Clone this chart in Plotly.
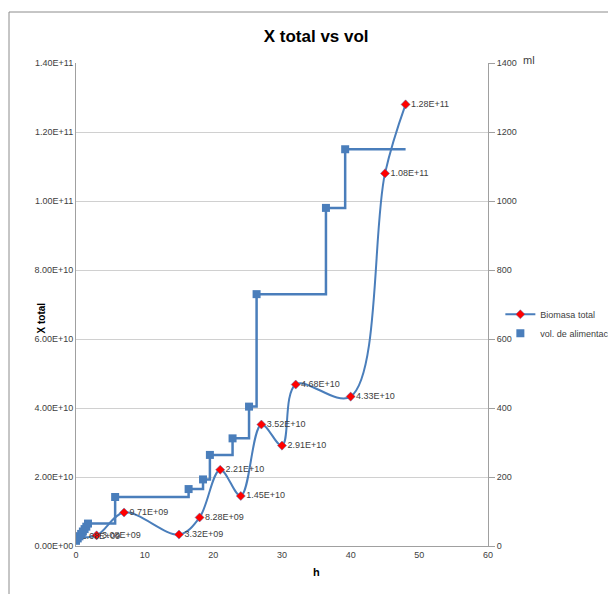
import plotly.graph_objects as go

# Biomasa total (cells) over time (h)
bio_h = [0, 3, 7, 15, 18, 21, 24, 27, 30, 32, 40, 45, 48]
bio_x = [2.68e9, 3.08e9, 9.71e9, 3.32e9, 8.28e9, 2.21e10, 1.45e10,
         3.52e10, 2.91e10, 4.68e10, 4.33e10, 1.08e11, 1.28e11]

# Feed volume (ml) over time (h)
vol_h = [0, 0.25, 0.5, 0.75, 1.0, 1.25, 1.5, 1.75,
         5.7, 16.4, 18.5, 19.5, 22.8, 25.2, 26.3, 36.4, 39.2]
vol_ml = [15, 22, 28, 35, 42, 49, 56, 65,
          142, 165, 193, 264, 312, 404, 730, 980, 1150]

left_ticks = [0, 2e10, 4e10, 6e10, 8e10, 1e11, 1.2e11, 1.4e11]
left_tick_text = ["0.00E+00", "2.00E+10", "4.00E+10", "6.00E+10",
                  "8.00E+10", "1.00E+11", "1.20E+11", "1.40E+11"]

FONT = "Liberation Sans Narrow, Arial Narrow, Liberation Sans, Arial, sans-serif"
BLUE = "#4a7ebb"
GRID = "#d0d0d0"
TXT = "#404040"

fig = go.Figure()

# stepped feed profile, held until the end of the run
step_x = vol_h + [bio_h[-1]]
step_y = vol_ml + [vol_ml[-1]]
fig.add_trace(go.Scatter(
    x=step_x, y=step_y, yaxis="y2", mode="lines",
    line=dict(color=BLUE, width=2.5, shape="hv"),
    showlegend=False, hoverinfo="skip"))

fig.add_trace(go.Scatter(
    x=vol_h, y=vol_ml, yaxis="y2", mode="markers",
    name="vol. de alimentación", legendrank=2,
    marker=dict(symbol="square", size=8, color=BLUE)))

fig.add_trace(go.Scatter(
    x=bio_h, y=bio_x, mode="lines+markers+text",
    name="Biomasa total", legendrank=1,
    line=dict(color=BLUE, width=2, shape="spline", smoothing=1),
    marker=dict(symbol="diamond", size=7, color="#ff0000",
                line=dict(color=BLUE, width=0.5)),
    text=[f"{v:.2E}" for v in bio_x],
    textposition="middle right",
    textfont=dict(family=FONT, size=9, color=TXT)))

fig.update_layout(
    width=608, height=594,
    margin=dict(l=76, r=120, t=63, b=48, autoexpand=False),
    paper_bgcolor="white", plot_bgcolor="white",
    font=dict(family=FONT, size=9, color=TXT),
    title=dict(text="<b>X total vs vol</b>", x=0.52, xanchor="center",
               y=1 - 36 / 594, yanchor="middle",
               font=dict(family=FONT, size=17, color="#000000")),
    xaxis=dict(range=[0, 60], dtick=10, showgrid=False, zeroline=False,
               showline=True, linecolor="#a0a0a0", linewidth=1,
               ticks="", tickfont=dict(size=9, color=TXT)),
    yaxis=dict(range=[0, 1.4e11], tickvals=left_ticks, ticktext=left_tick_text,
               showgrid=True, gridcolor=GRID, gridwidth=1, zeroline=False,
               showline=True, linecolor="#a0a0a0", linewidth=1,
               ticks="", tickfont=dict(size=9, color=TXT)),
    yaxis2=dict(range=[0, 1400], dtick=200, overlaying="y", side="right",
                showgrid=False, zeroline=False, showline=True,
                linecolor="#a0a0a0", linewidth=1, ticks="outside",
                ticklen=6, tickcolor="#a0a0a0",
                tickfont=dict(size=9, color=TXT)),
    legend=dict(x=1.03, y=0.46, xanchor="left", yanchor="middle",
                bgcolor="rgba(0,0,0,0)", font=dict(size=9, color=TXT),
                itemwidth=30, tracegroupgap=4),
    showlegend=True,
)

# axis titles and units
fig.add_annotation(text="<b>X total</b>", xref="paper", yref="paper",
                   x=(33 - 76) / 412, y=(546 - 318) / 483, textangle=-90,
                   showarrow=False, font=dict(size=10, color="#000000"))
fig.add_annotation(text="<b>h</b>", xref="paper", yref="paper",
                   x=(316 - 76) / 412, y=(546 - 580) / 483,
                   showarrow=False, font=dict(size=11, color="#000000"))
fig.add_annotation(text="ml", xref="paper", yref="paper",
                   x=(537 - 76) / 412, y=(546 - 52) / 483,
                   showarrow=False, font=dict(size=11, color=TXT))

# chart frame
fig.add_shape(type="rect", xref="paper", yref="paper",
              x0=(9 - 76) / 412, x1=(700 - 76) / 412,
              y0=(546 - 640) / 483, y1=(546 - 12) / 483,
              line=dict(color="#8c8c8c", width=1), layer="below")

fig.write_html("out.html")
